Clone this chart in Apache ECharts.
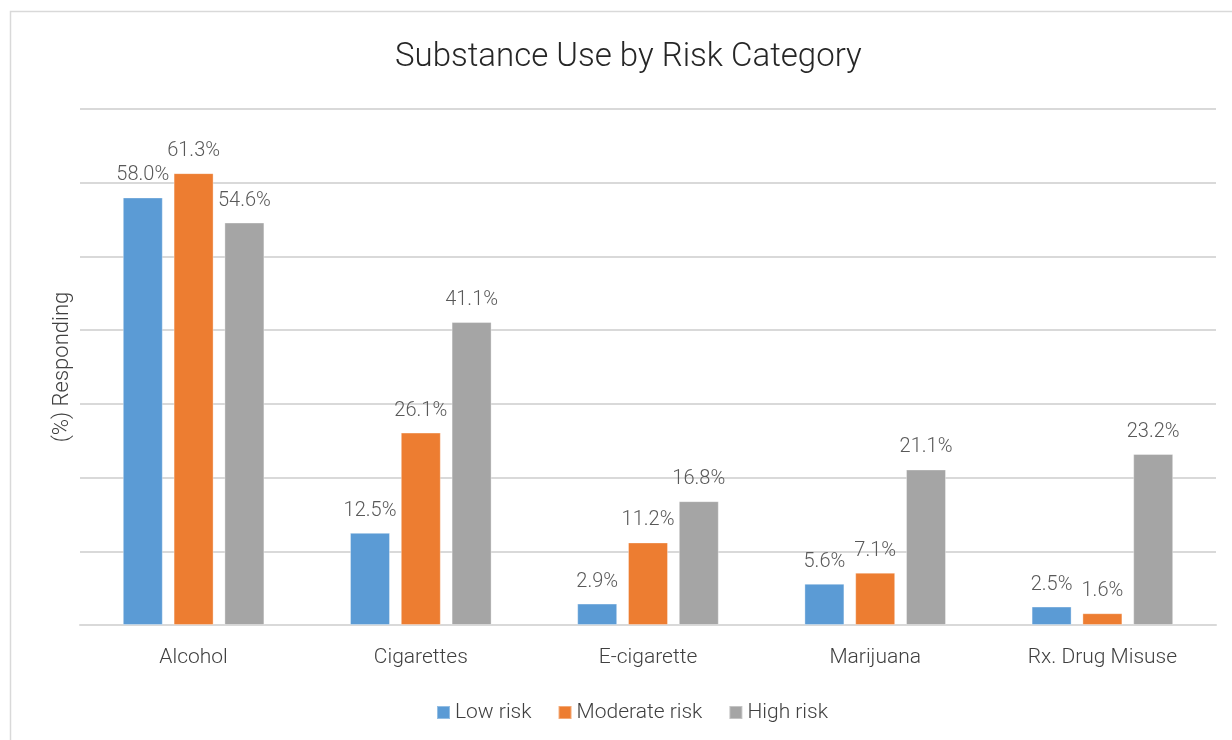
<!DOCTYPE html>
<html><head><meta charset="utf-8">
<script src="https://cdn.jsdelivr.net/npm/echarts@6/dist/echarts.min.js"></script>
<style>html,body{margin:0;padding:0;background:#fff;}#c{width:1232px;height:740px;}</style>
</head><body><div id="c"></div>
<script>
const categories = ["Alcohol", "Cigarettes", "E-cigarette", "Marijuana", "Rx. Drug Misuse"];
const lowRisk = [58.0, 12.5, 2.9, 5.6, 2.5];
const moderateRisk = [61.3, 26.1, 11.2, 7.1, 1.6];
const highRisk = [54.6, 41.1, 16.8, 21.1, 23.2];
const seriesNames = ["Low risk", "Moderate risk", "High risk"];
const colors = ["#5B9BD5", "#ED7D31", "#A5A5A5"];

const FONT = "Roboto";
const chart = echarts.init(document.getElementById('c'));
function mk(name, data, color) {
  return {
    name, type: 'bar', data, barWidth: 40, barGap: '27%',
    itemStyle: { color, borderColor: 'rgba(255,255,255,0.35)', borderWidth: 1 },
    label: { show: true, position: 'top', distance: 12, formatter: p => p.value.toFixed(1) + '%',
      color: '#595959', fontFamily: FONT, fontWeight: 300, fontSize: 20 }
  };
}
chart.setOption({
  animation: false,
  textStyle: { fontFamily: FONT },
  graphic: [{ type: 'rect', shape: { x: 10.5, y: 11.5, width: 1400, height: 1000 },
    style: { fill: 'none', stroke: '#d9d9d9', lineWidth: 1.5 }, silent: true }],
  title: { text: 'Substance Use by Risk Category', left: 390, top: 36,
    textStyle: { fontFamily: FONT, fontWeight: 300, fontSize: 33, color: '#262626' } },
  grid: { left: 80, right: 16, top: 109, bottom: 115 },
  legend: { left: 431, top: 697, itemWidth: 13, itemHeight: 13, itemGap: 26, icon: 'rect',
    textStyle: { fontFamily: FONT, fontWeight: 300, fontSize: 21, color: '#404040' },
    data: seriesNames },
  xAxis: { type: 'category', data: categories,
    axisLine: { lineStyle: { color: '#d9d9d9', width: 2 } }, axisTick: { show: false },
    axisLabel: { margin: 22, fontFamily: FONT, fontWeight: 300, fontSize: 21, color: '#404040' } },
  yAxis: { type: 'value', min: 0, max: 70, interval: 10,
    name: '(%) Responding', nameLocation: 'middle', nameGap: 7,
    nameTextStyle: { fontFamily: FONT, fontWeight: 300, fontSize: 22, color: '#404040' },
    axisLabel: { show: false }, axisLine: { show: false }, axisTick: { show: false },
    splitLine: { lineStyle: { color: '#d9d9d9', width: 2 } } },
  series: [mk(seriesNames[0], lowRisk, colors[0]), mk(seriesNames[1], moderateRisk, colors[1]), mk(seriesNames[2], highRisk, colors[2])]
});
</script></body></html>
